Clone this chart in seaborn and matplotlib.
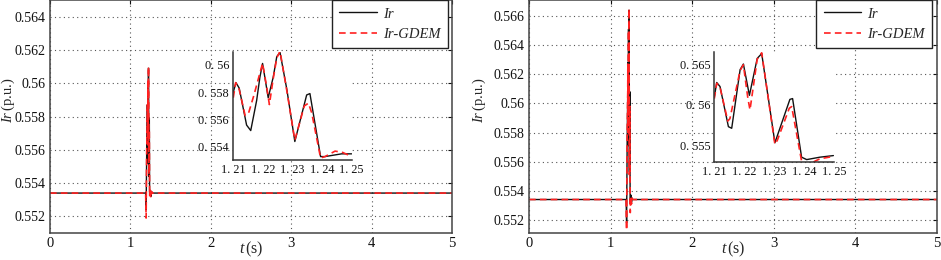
import numpy as np
import pandas as pd
import seaborn as sns
import matplotlib.pyplot as plt

# ---- dados ----
# painel esquerdo (a)
t_pre_a = [0.0, 1.19, 1.196, 1.203]
ir_pre_a = [0.5534, 0.5534, 0.5524, 0.5558]
gdem_pre_a = [0.5534, 0.5534, 0.5519, 0.5560]

t_ir_a = [1.2100, 1.2109, 1.2120, 1.2145, 1.2159, 1.2179, 1.2190, 1.2199, 1.2218,
          1.2235, 1.2247, 1.2258, 1.2281, 1.2308, 1.2348, 1.2359, 1.2395, 1.2410,
          1.2438, 1.2466, 1.2500]
ir_a = [0.5580, 0.5587, 0.5583, 0.5556, 0.5552, 0.5574, 0.5591, 0.5601, 0.5576,
        0.5591, 0.5606, 0.5609, 0.5582, 0.5544, 0.5578, 0.5579, 0.5533, 0.5533,
        0.5534, 0.5535, 0.5535]
t_gdem_a = [1.2100, 1.2108, 1.2120, 1.2140, 1.2152, 1.2170, 1.2190, 1.2199, 1.2212,
            1.2222, 1.2235, 1.2247, 1.2258, 1.2281, 1.2308, 1.2340, 1.2354, 1.2365,
            1.2395, 1.2410, 1.2444, 1.2470, 1.2500]
gdem_a = [0.5576, 0.5587, 0.5582, 0.5563, 0.5565, 0.5578, 0.5594, 0.5601, 0.5585,
          0.5571, 0.5590, 0.5605, 0.5610, 0.5581, 0.5545, 0.5570, 0.5572, 0.5565,
          0.5532, 0.5533, 0.5537, 0.5536, 0.5533]

t_pos_a = [1.256, 1.262, 1.27, 5.0]
ir_pos_a = [0.5532, 0.5535, 0.5534, 0.5534]
gdem_pos_a = [0.5531, 0.5535, 0.5534, 0.5534]

# painel direito (b)
t_pre_b = [0.0, 1.19, 1.196, 1.203]
ir_pre_b = [0.5534, 0.5534, 0.5518, 0.5575]
gdem_pre_b = [0.5534, 0.5534, 0.5513, 0.5578]

t_ir_b = [1.2100, 1.2108, 1.2119, 1.2147, 1.2158, 1.2186, 1.2197, 1.2217, 1.2243,
          1.2258, 1.2302, 1.2352, 1.2361, 1.2391, 1.2408, 1.2452, 1.2497]
ir_b = [0.5610, 0.5628, 0.5623, 0.5573, 0.5571, 0.5644, 0.5651, 0.5612, 0.5658,
        0.5664, 0.5553, 0.5607, 0.5608, 0.5535, 0.5532, 0.5535, 0.5537]
t_gdem_b = [1.2100, 1.2108, 1.2119, 1.2145, 1.2152, 1.2186, 1.2197, 1.2212, 1.2219,
            1.2243, 1.2258, 1.2302, 1.2310, 1.2350, 1.2358, 1.2391, 1.2408, 1.2452,
            1.2497]
gdem_b = [0.5608, 0.5627, 0.5622, 0.5580, 0.5583, 0.5643, 0.5650, 0.5608, 0.5594,
          0.5657, 0.5665, 0.5551, 0.5556, 0.5596, 0.5598, 0.5530, 0.5525, 0.5533,
          0.5536]

t_pos_b = [1.256, 1.262, 1.27, 5.0]
ir_pos_b = [0.5532, 0.5535, 0.5534, 0.5534]
gdem_pos_b = [0.5531, 0.5535, 0.5534, 0.5534]

x_ticks = [0, 1, 2, 3, 4, 5]
y_ticks_a = [0.552, 0.554, 0.556, 0.558, 0.560, 0.562, 0.564]
y_labels_a = ["0.552", "0.554", "0.556", "0.558", "0.56", "0.562", "0.564"]
y_ticks_b = [0.552, 0.554, 0.556, 0.558, 0.560, 0.562, 0.564, 0.566]
y_labels_b = ["0.552", "0.554", "0.556", "0.558", "0.56", "0.562", "0.564", "0.566"]

ins_x_ticks = [1.21, 1.22, 1.23, 1.24, 1.25]
ins_x_labels = ["1. 21", "1. 22", "1. 23", "1. 24", "1. 25"]
ins_y_ticks_a = [0.554, 0.556, 0.558, 0.560]
ins_y_labels_a = ["0. 554", "0. 556", "0. 558", "0. 56"]
ins_y_ticks_b = [0.555, 0.560, 0.565]
ins_y_labels_b = ["0. 555", "0. 56", "0. 565"]

sns.set_style("white")
plt.rcParams['font.family'] = ['Liberation Serif', 'DejaVu Serif']
plt.rcParams['mathtext.fontset'] = 'custom'
plt.rcParams['mathtext.rm'] = 'Liberation Serif'
plt.rcParams['mathtext.it'] = 'Liberation Serif:italic'

BLACK = '#111111'
RED = '#ff2020'
SPINE = '#444444'

fig = plt.figure(figsize=(9.41, 2.6), dpi=100)


def linhas(ax, t_ir, ir, t_gd, gd, lw_k=1.0, lw_r=1.2, rotulos=True):
    sns.lineplot(x=t_ir, y=ir, ax=ax, color=BLACK, lw=lw_k, estimator=None, sort=False,
                 label='Ir' if rotulos else None)
    sns.lineplot(x=t_gd, y=gd, ax=ax, color=RED, lw=lw_r, estimator=None, sort=False,
                 linestyle=(0, (4, 2.5)), label='Ir-GDEM' if rotulos else None)


def painel(rect, t_pre, ir_pre, gd_pre, t_ir, ir, t_gd, gd, t_pos, ir_pos, gd_pos,
           ylim, yt, ylab, ins_rect, ins_ylim, ins_yt, ins_ylab, ylab_x, leg_x):
    ax = fig.add_axes(rect)
    linhas(ax, t_pre + t_ir + t_pos, ir_pre + ir + ir_pos,
           t_pre + t_gd + t_pos, gd_pre + gd + gd_pos)
    ax.set_xlim(0, 5)
    ax.set_ylim(*ylim)
    ax.set_xticks(x_ticks)
    ax.set_xticklabels([str(v) for v in x_ticks])
    ax.set_yticks(yt)
    ax.set_yticklabels(ylab)
    ax.grid(True, color='#555555', linestyle=(0, (1, 3)), linewidth=0.8)
    ax.tick_params(direction='in', top=True, right=True, length=3, width=0.8,
                   labelsize=10, pad=3, colors='#111111')
    ax.tick_params(axis='x', labelsize=10.5)
    for s in ax.spines.values():
        s.set_color(SPINE)
        s.set_linewidth(1.1)
    ax.set_xlabel(r'$t\,$(s)', fontsize=11.5)
    ax.xaxis.set_label_coords(0.5, -0.03)
    ax.set_ylabel(r'$Ir\,$(p.u.)', fontsize=10.5)
    ax.yaxis.set_label_coords(ylab_x, 0.57)
    leg = ax.legend(loc='upper right', bbox_to_anchor=(leg_x, 1.0), borderaxespad=0,
                    prop={'family': 'Liberation Serif', 'style': 'italic', 'size': 10.5},
                    handlelength=2.6, handletextpad=0.4, borderpad=0.5, labelspacing=0.5,
                    fancybox=False, framealpha=1, edgecolor='#222222')
    leg.get_frame().set_linewidth(1.0)

    ins = fig.add_axes(ins_rect)
    ins.set_facecolor('white')
    linhas(ins, t_ir, ir, t_gd, gd, lw_k=1.0, lw_r=1.2, rotulos=False)
    ins.set_xlim(1.21, 1.25)
    ins.set_ylim(*ins_ylim)
    ins.set_xticks(ins_x_ticks)
    ins.set_xticklabels(ins_x_labels)
    ins.set_yticks(ins_yt)
    ins.set_yticklabels(ins_ylab)
    ins.tick_params(direction='in', length=2.5, width=0.8, labelsize=8.8, pad=3,
                    colors='#111111')
    ins.spines['top'].set_visible(False)
    ins.spines['right'].set_visible(False)
    for s in ('left', 'bottom'):
        ins.spines[s].set_color('#333333')
        ins.spines[s].set_linewidth(1.1)
    ins.set_xlabel('')
    ins.set_ylabel('')
    return ax


painel([0.0531, 0.1038, 0.4272, 0.8962], t_pre_a, ir_pre_a, gdem_pre_a, t_ir_a, ir_a,
       t_gdem_a, gdem_a, t_pos_a, ir_pos_a, gdem_pos_a, (0.5510, 0.5650),
       y_ticks_a, y_labels_a, [0.2479, 0.3846, 0.1258, 0.4135], (0.55305, 0.5609),
       ins_y_ticks_a, ins_y_labels_a, -0.083, 0.99)

painel([0.5622, 0.1038, 0.4335, 0.8962], t_pre_b, ir_pre_b, gdem_pre_b, t_ir_b, ir_b,
       t_gdem_b, gdem_b, t_pos_b, ir_pos_b, gdem_pos_b, (0.5511, 0.5671),
       y_ticks_b, y_labels_b, [0.7591, 0.3769, 0.1275, 0.4231], (0.5529, 0.5666),
       ins_y_ticks_b, ins_y_labels_b, -0.1, 0.988)

plt.savefig("out.png", dpi=100)
plt.close()
